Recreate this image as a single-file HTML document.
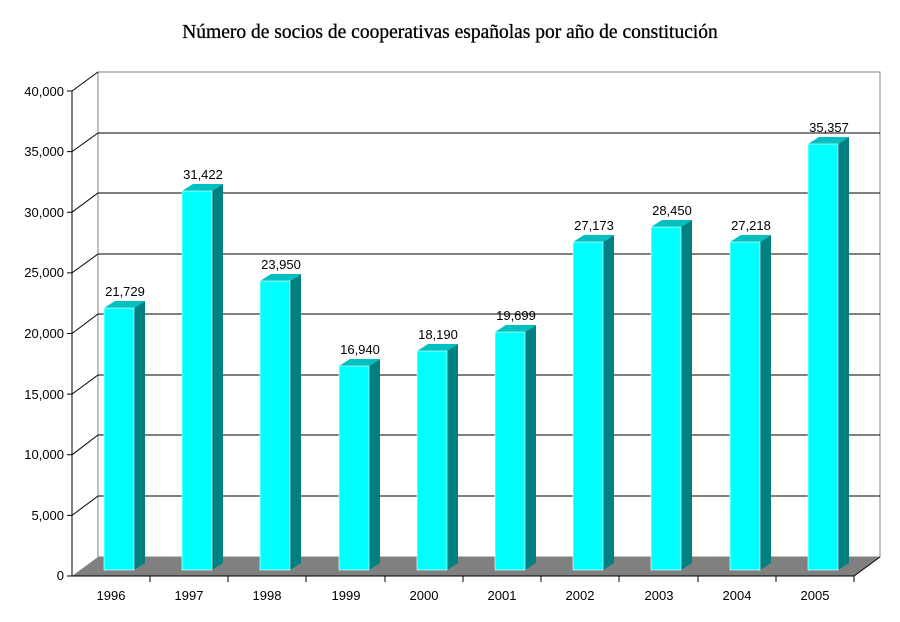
<!DOCTYPE html>
<html><head><meta charset="utf-8"><style>
body{margin:0;background:#fff}
svg{display:block}
</style></head><body>
<svg width="900" height="622" xmlns="http://www.w3.org/2000/svg" font-family="Liberation Sans, sans-serif" font-size="13">
<text x="450" y="38" text-anchor="middle" font-family="Liberation Serif, serif" font-size="19.5" stroke="#000" stroke-width="0.3">Número de socios de cooperativas españolas por año de constitución</text>
<rect x="98" y="72" width="782" height="485" fill="#fff" stroke="#808080" stroke-width="1"/>
<polygon points="72,576 98,557 880,557 854,576" fill="#808080"/>
<g stroke="#000" stroke-width="1" fill="none">
<path d="M72,91 L98,72"/>
<path d="M72,151.6 L98,133 H880"/>
<path d="M72,212.2 L98,193 H880"/>
<path d="M72,272.9 L98,254 H880"/>
<path d="M72,333.5 L98,314 H880"/>
<path d="M72,394.1 L98,375 H880"/>
<path d="M72,454.8 L98,435 H880"/>
<path d="M72,515.4 L98,496 H880"/>
<path d="M72,91 V576 H854 L880,557"/>
<path d="M67,91H72M67,151.6H72M67,212.2H72M67,272.9H72M67,333.5H72M67,394.1H72M67,454.8H72M67,515.4H72M67,576H72"/>
<path d="M150,576V582M228,576V582M306,576V582M385,576V582M463,576V582M541,576V582M619,576V582M698,576V582M776,576V582M854,576V582"/>
</g>
<g text-anchor="end">
<text x="64" y="96">40,000</text><text x="64" y="156">35,000</text><text x="64" y="217">30,000</text><text x="64" y="277">25,000</text><text x="64" y="338">20,000</text><text x="64" y="399">15,000</text><text x="64" y="459">10,000</text><text x="64" y="520">5,000</text><text x="64" y="580">0</text>
</g>
<g text-anchor="middle">
<text x="111" y="600">1996</text><text x="189" y="600">1997</text><text x="267" y="600">1998</text><text x="346" y="600">1999</text><text x="424" y="600">2000</text><text x="502" y="600">2001</text><text x="580" y="600">2002</text><text x="659" y="600">2003</text><text x="737" y="600">2004</text><text x="815" y="600">2005</text>
</g>
<g>
<polygon points="134,308 145,301 145,563 134,570" fill="#008080"/><polygon points="104,308 115,301 145,301 134,308" fill="#00C0C0"/><rect x="104" y="308" width="30" height="262" fill="#0FF" stroke="#fff" stroke-width="0.6"/><text x="125" y="296" text-anchor="middle">21,729</text>
<polygon points="212,191 223,184 223,563 212,570" fill="#008080"/><polygon points="182,191 193,184 223,184 212,191" fill="#00C0C0"/><rect x="182" y="191" width="30" height="379" fill="#0FF" stroke="#fff" stroke-width="0.6"/><text x="203" y="179" text-anchor="middle">31,422</text>
<polygon points="290,281 301,274 301,563 290,570" fill="#008080"/><polygon points="260,281 271,274 301,274 290,281" fill="#00C0C0"/><rect x="260" y="281" width="30" height="289" fill="#0FF" stroke="#fff" stroke-width="0.6"/><text x="281" y="269" text-anchor="middle">23,950</text>
<polygon points="369,366 380,359 380,563 369,570" fill="#008080"/><polygon points="339,366 350,359 380,359 369,366" fill="#00C0C0"/><rect x="339" y="366" width="30" height="204" fill="#0FF" stroke="#fff" stroke-width="0.6"/><text x="360" y="354" text-anchor="middle">16,940</text>
<polygon points="447,351 458,344 458,563 447,570" fill="#008080"/><polygon points="417,351 428,344 458,344 447,351" fill="#00C0C0"/><rect x="417" y="351" width="30" height="219" fill="#0FF" stroke="#fff" stroke-width="0.6"/><text x="438" y="339" text-anchor="middle">18,190</text>
<polygon points="525,332 536,325 536,563 525,570" fill="#008080"/><polygon points="495,332 506,325 536,325 525,332" fill="#00C0C0"/><rect x="495" y="332" width="30" height="238" fill="#0FF" stroke="#fff" stroke-width="0.6"/><text x="516" y="320" text-anchor="middle">19,699</text>
<polygon points="603,242 614,235 614,563 603,570" fill="#008080"/><polygon points="573,242 584,235 614,235 603,242" fill="#00C0C0"/><rect x="573" y="242" width="30" height="328" fill="#0FF" stroke="#fff" stroke-width="0.6"/><text x="594" y="230" text-anchor="middle">27,173</text>
<polygon points="681,227 692,220 692,563 681,570" fill="#008080"/><polygon points="651,227 662,220 692,220 681,227" fill="#00C0C0"/><rect x="651" y="227" width="30" height="343" fill="#0FF" stroke="#fff" stroke-width="0.6"/><text x="672" y="215" text-anchor="middle">28,450</text>
<polygon points="760,242 771,235 771,563 760,570" fill="#008080"/><polygon points="730,242 741,235 771,235 760,242" fill="#00C0C0"/><rect x="730" y="242" width="30" height="328" fill="#0FF" stroke="#fff" stroke-width="0.6"/><text x="751" y="230" text-anchor="middle">27,218</text>
<polygon points="838,144 849,137 849,563 838,570" fill="#008080"/><polygon points="808,144 819,137 849,137 838,144" fill="#00C0C0"/><rect x="808" y="144" width="30" height="426" fill="#0FF" stroke="#fff" stroke-width="0.6"/><text x="829" y="132" text-anchor="middle">35,357</text>
</g>
</svg>
</body></html>
